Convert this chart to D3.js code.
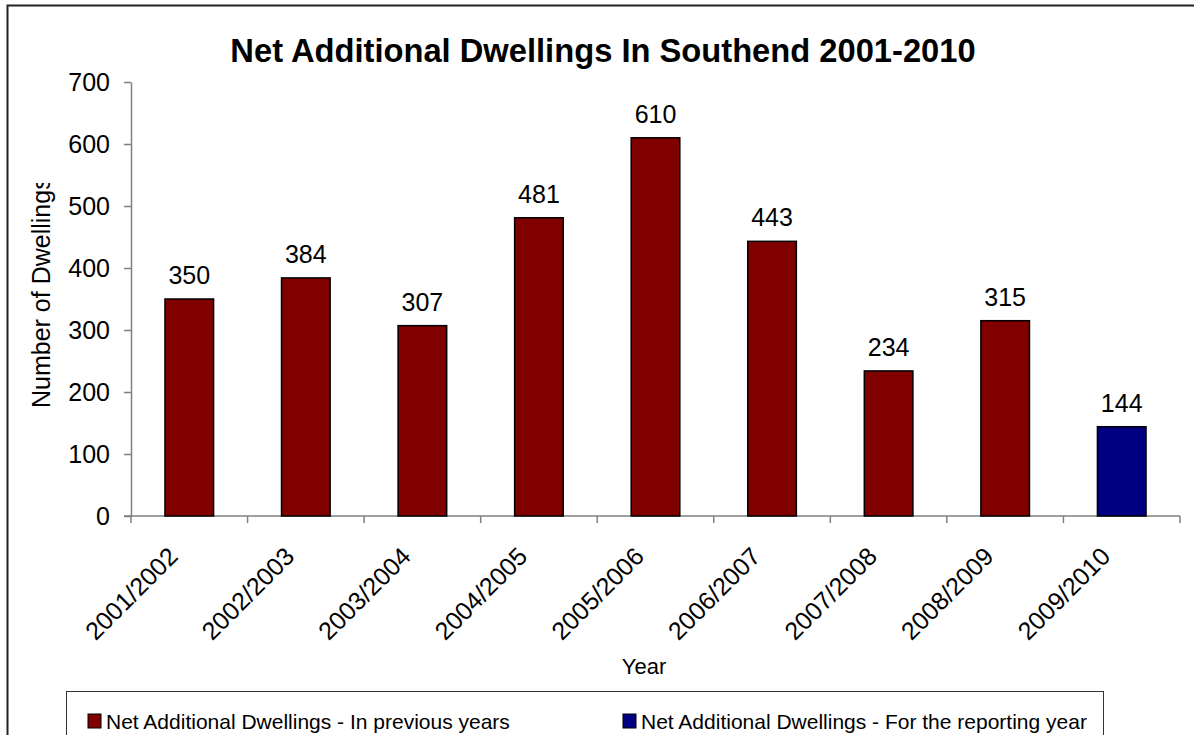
<!DOCTYPE html>
<html>
<head>
<meta charset="utf-8">
<script src="https://cdn.jsdelivr.net/npm/d3@7"></script>
<style>
  html, body { margin: 0; padding: 0; background: #fff; }
  svg { display: block; font-family: "Liberation Sans", Arial, sans-serif; }
</style>
</head>
<body>
<svg id="chart" width="1194" height="735"></svg>
<script>
// Net additional dwellings per monitoring year
const years = ["2001/2002", "2002/2003", "2003/2004", "2004/2005", "2005/2006",
               "2006/2007", "2007/2008", "2008/2009", "2009/2010"];
const dwellings = [350, 384, 307, 481, 610, 443, 234, 315, 144];
const seriesKey = ["prev", "prev", "prev", "prev", "prev", "prev", "prev", "prev", "current"];
const yTicks = [0, 100, 200, 300, 400, 500, 600, 700];
const legendLabels = ["Net Additional Dwellings - In previous years",
                      "Net Additional Dwellings - For the reporting year"];
const seriesColours = { prev: "#800000", current: "#000080" };

const svg = d3.select("#chart");

// outer chart frame (continues past the right and bottom edges)
svg.append("path")
  .attr("d", "M7.5,740 L7.5,5.5 L1200,5.5")
  .attr("fill", "none").attr("stroke", "#222").attr("stroke-width", 2);

const plot = { left: 131, right: 1180, top: 82, bottom: 516 };

const x = d3.scaleBand().domain(years).range([plot.left, plot.right])
  .paddingInner(0.583).paddingOuter(0.2915);
const xAxisBand = d3.scaleBand().domain(years).range([plot.left, plot.right]);
const y = d3.scaleLinear().domain([0, 700]).range([plot.bottom, plot.top]);

// title
svg.append("text")
  .attr("x", 603).attr("y", 62)
  .attr("text-anchor", "middle")
  .attr("font-weight", "bold").attr("font-size", 32.7)
  .text("Net Additional Dwellings In Southend 2001-2010");

// y axis
const yAxis = svg.append("g").attr("transform", `translate(${plot.left},0)`)
  .call(d3.axisLeft(y).tickValues(yTicks).tickSize(7).tickPadding(14).tickSizeOuter(0));
yAxis.select(".domain").attr("stroke", "#808080").attr("stroke-width", 1.5);
yAxis.selectAll(".tick line").attr("stroke", "#808080").attr("stroke-width", 1.5);
yAxis.selectAll(".tick text").attr("font-size", 25).attr("fill", "#000")
  .attr("font-family", "Liberation Sans, Arial, sans-serif");

// x axis: ticks sit on band boundaries
const xAxisG = svg.append("g").attr("transform", `translate(0,${plot.bottom})`);
xAxisG.append("line")
  .attr("x1", plot.left - 7).attr("x2", plot.right)
  .attr("stroke", "#808080").attr("stroke-width", 1.5);
const boundaries = years.map(d => xAxisBand(d)).concat([plot.right]);
xAxisG.selectAll("line.tick").data(boundaries).join("line")
  .attr("class", "tick")
  .attr("x1", d => d).attr("x2", d => d).attr("y1", 0).attr("y2", 7)
  .attr("stroke", "#808080").attr("stroke-width", 1.5);
xAxisG.selectAll("text").data(years).join("text")
  .attr("text-anchor", "end")
  .attr("font-size", 25)
  .attr("transform", d => `translate(${x(d) + x.bandwidth() / 2 - 10},${42}) rotate(-45)`)
  .text(d => d);

// y axis title, clipped at the top by the chart layout
svg.append("clipPath").attr("id", "ylabClip")
  .append("rect").attr("x", 0).attr("y", 183).attr("width", 100).attr("height", 400);
svg.append("g")
  .attr("clip-path", "url(#ylabClip)")
  .append("text")
  .attr("transform", "translate(50,408) rotate(-90)")
  .attr("font-size", 25)
  .text("Number of Dwellings");

// x axis title
svg.append("text")
  .attr("x", 644).attr("y", 674)
  .attr("text-anchor", "middle").attr("font-size", 22)
  .text("Year");

// bars
svg.append("g").selectAll("rect").data(years).join("rect")
  .attr("x", d => x(d))
  .attr("y", (d, i) => y(dwellings[i]))
  .attr("width", x.bandwidth())
  .attr("height", (d, i) => y(0) - y(dwellings[i]))
  .attr("fill", (d, i) => seriesColours[seriesKey[i]])
  .attr("stroke", "#000").attr("stroke-width", 1.5);

// value labels
svg.append("g").selectAll("text").data(years).join("text")
  .attr("x", d => x(d) + x.bandwidth() / 2)
  .attr("y", (d, i) => y(dwellings[i]) - 15)
  .attr("text-anchor", "middle").attr("font-size", 25)
  .text((d, i) => dwellings[i]);

// legend
const legend = svg.append("g");
legend.append("rect")
  .attr("x", 66.5).attr("y", 691.5).attr("width", 1037).attr("height", 50)
  .attr("fill", "#fff").attr("stroke", "#333").attr("stroke-width", 1);
const legendItems = [
  { label: legendLabels[0], colour: seriesColours.prev, x: 88 },
  { label: legendLabels[1], colour: seriesColours.current, x: 623 }
];
legendItems.forEach(item => {
  legend.append("rect")
    .attr("x", item.x).attr("y", 714).attr("width", 13).attr("height", 14)
    .attr("fill", item.colour).attr("stroke", "#000").attr("stroke-width", 1);
  legend.append("text")
    .attr("x", item.x + 18).attr("y", 729)
    .attr("font-size", 21)
    .text(item.label);
});
</script>
</body>
</html>
